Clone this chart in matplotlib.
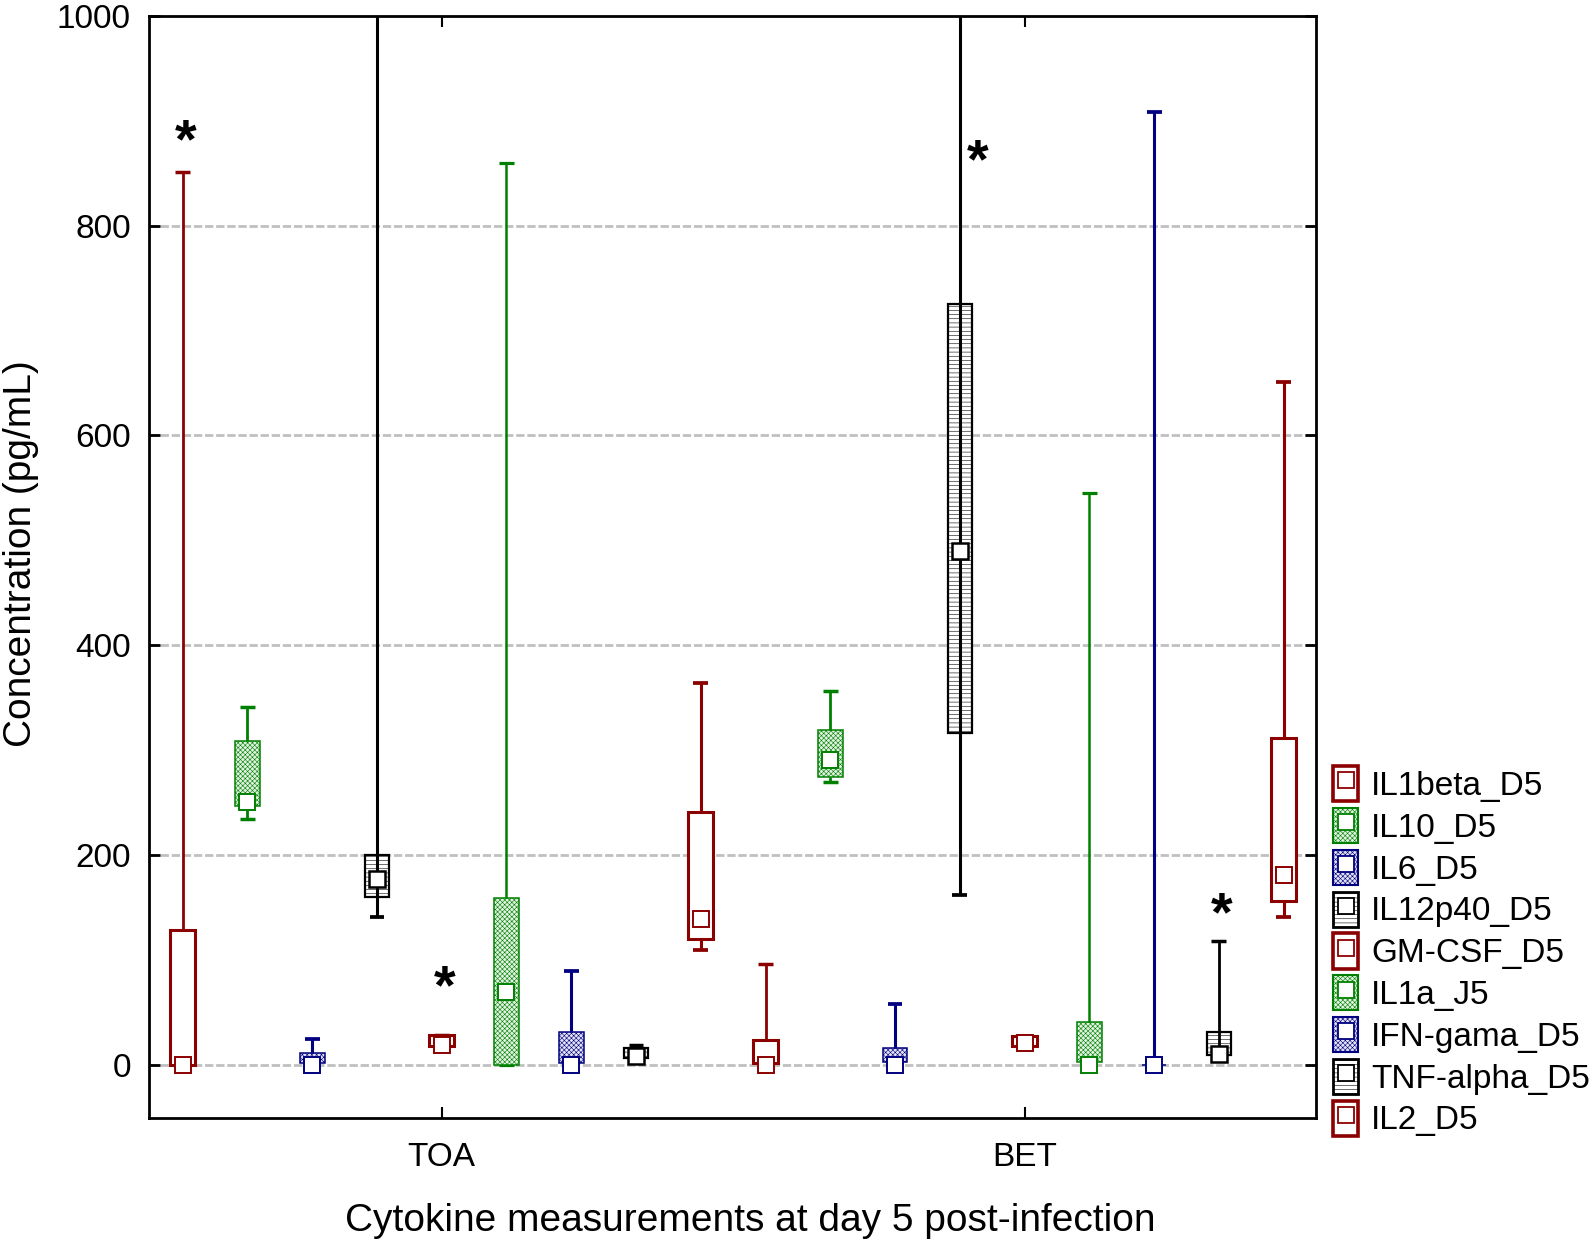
import matplotlib
matplotlib.use('Agg')
import matplotlib.pyplot as plt
from matplotlib.patches import Rectangle, Patch
from matplotlib.lines import Line2D
from matplotlib.legend_handler import HandlerTuple

plt.rcParams['font.family'] = ['Liberation Sans', 'DejaVu Sans']
plt.rcParams['hatch.linewidth'] = 0.4

# ---------------- data ----------------
groups = ['TOA', 'BET']
cytokines = ['IL1beta_D5', 'IL10_D5', 'IL6_D5', 'IL12p40_D5', 'GM-CSF_D5',
             'IL1a_J5', 'IFN-gama_D5', 'TNF-alpha_D5', 'IL2_D5']

# TOA group: min, q1, median, q3, max (pg/mL)
toa_min = [0, 234, 0, 141, 18, 0, 0, 6, 109]
toa_q1 = [0, 247, 1, 160, 18, 0, 1, 6, 120]
toa_med = [0, 250, 0, 177, 19, 69, 0, 8, 139]
toa_q3 = [128, 309, 11, 200, 28, 159, 31, 16, 241]
toa_max = [851, 341, 24, 1100, 28, 860, 89, 19, 364]

# BET group
bet_min = [0, 269, 0, 162, 18, 0, 0, 9, 141]
bet_q1 = [1, 274, 2, 316, 18, 2, 0, 9, 156]
bet_med = [0, 290, 0, 490, 21, 0, 0, 10, 181]
bet_q3 = [23, 319, 16, 725, 27, 41, 0, 31, 311]
bet_max = [96, 356, 58, 1100, 27, 545, 908, 118, 651]

# significance stars: (group index, cytokine index, y value)
star_group = [0, 0, 1, 1]
star_cyto = [0, 4, 3, 7]
star_y = [889, 82, 870, 152]

yticks = [0, 200, 400, 600, 800, 1000]

# ---------------- style ----------------
colors = ['#8B0000', '#008000', '#000080', '#000000', '#8B0000',
          '#008000', '#000080', '#000000', '#8B0000']
faces = ['white', '#e2f2e2', '#e2e2f2', 'white', 'white',
         '#e2f2e2', '#e2e2f2', 'white', 'white']
hatches = [None, 'xxxxxxx', 'xxxxxxx', '----', None, 'xxxxxxx', 'xxxxxxx', '----', None]
box_lw = [2.2, 1.1, 1.1, 1.6, 2.2, 1.1, 1.1, 1.6, 2.2]
wh_lw = [2.0, 2.0, 2.2, 2.2, 2.0, 1.8, 2.2, 2.0, 2.2]
BOX_W = 0.38
CAP_W = 0.23

fig = plt.figure(figsize=(15.94, 12.45), dpi=100)
ax = fig.add_axes([149 / 1594, 1 - 1118 / 1245, (1316 - 149) / 1594, (1118 - 16) / 1245])

data = [
    (toa_min, toa_q1, toa_med, toa_q3, toa_max),
    (bet_min, bet_q1, bet_med, bet_q3, bet_max),
]

ncyt = len(cytokines)
for g, (mn, q1, md, q3, mx) in enumerate(data):
    for i in range(ncyt):
        x = g * ncyt + i + 1
        c = colors[i]
        h = hatches[i]
        # box
        rect = Rectangle((x - BOX_W / 2, q1[i]), BOX_W, q3[i] - q1[i],
                         facecolor=faces[i], edgecolor=c, lw=box_lw[i],
                         hatch=h, zorder=3)
        ax.add_patch(rect)
        # whiskers
        if h == '----':
            ax.plot([x, x], [mn[i], mx[i]], color=c, lw=wh_lw[i], zorder=4,
                    solid_capstyle='butt')
        else:
            ax.plot([x, x], [q3[i], mx[i]], color=c, lw=wh_lw[i], zorder=4,
                    solid_capstyle='butt')
            ax.plot([x, x], [mn[i], q1[i]], color=c, lw=wh_lw[i], zorder=4,
                    solid_capstyle='butt')
        ax.plot([x - CAP_W / 2, x + CAP_W / 2], [mx[i], mx[i]], color=c,
                lw=wh_lw[i] + 0.5, zorder=2.9, solid_capstyle='butt')
        ax.plot([x - CAP_W / 2, x + CAP_W / 2], [mn[i], mn[i]], color=c,
                lw=wh_lw[i] + 0.5, zorder=2.9, solid_capstyle='butt')
        # median marker
        ax.plot([x], [md[i]], marker='s', markersize=12, markerfacecolor='white',
                markeredgecolor=c, markeredgewidth=1.8 if c == '#000000' else 1.4,
                zorder=5, linestyle='none')

# stars
for g, i, y in zip(star_group, star_cyto, star_y):
    x = g * ncyt + i + 1
    dx = 0.27 if (g == 1 and i == 3) else 0.04
    ax.annotate('*', xy=(x + dx, y), xytext=(0, -18), textcoords='offset points',
                ha='center', va='baseline', fontsize=40, fontweight='bold',
                zorder=6)

# axes
ax.set_xlim(0.48, 18.5)
ax.set_ylim(-51, 1000)
ax.set_yticks(yticks)
ax.set_yticklabels([str(v) for v in yticks])
centers = [g * ncyt + (ncyt + 1) / 2 for g in range(len(groups))]
ax.set_xticks(centers)
ax.set_xticklabels(groups)
ax.tick_params(axis='y', direction='in', length=8, width=2, labelsize=24, pad=13,
               left=True, right=True)
ax.tick_params(axis='x', direction='in', length=8, width=1.5, labelsize=24, pad=17,
               bottom=True, top=True)
for s in ax.spines.values():
    s.set_linewidth(2)
for v in yticks[:-1]:
    ax.axhline(v, color='#c0c0c0', lw=2.0, linestyle=(0, (3, 1)), zorder=1)

fig.text(750 / 1594, 1 - 1221 / 1245, 'Cytokine measurements at day 5 post-infection',
         ha='center', va='center', fontsize=28)
fig.text(21 / 1594, 1 - 554 / 1245, 'Concentration (pg/mL)', rotation=90,
         ha='center', va='center', fontsize=28)

# legend
handles = []
for i in range(ncyt):
    p = Patch(facecolor=faces[i], edgecolor=colors[i], hatch=hatches[i], lw=box_lw[i] + 0.4)
    m = Line2D([], [], marker='s', markersize=11, markerfacecolor='white',
               markeredgecolor=colors[i], markeredgewidth=1.3, linestyle='none')
    handles.append((p, m))
fig.legend(handles, cytokines, loc='upper left', bbox_to_anchor=(1333 / 1594, 1 - 766 / 1245),
           frameon=False, fontsize=24, handlelength=0.75, handleheight=1.25,
           labelspacing=0.18, handletextpad=0.4, borderpad=0, borderaxespad=0,
           handler_map={tuple: HandlerTuple(ndivide=1, pad=0)})

fig.savefig('out.png', dpi=100)
